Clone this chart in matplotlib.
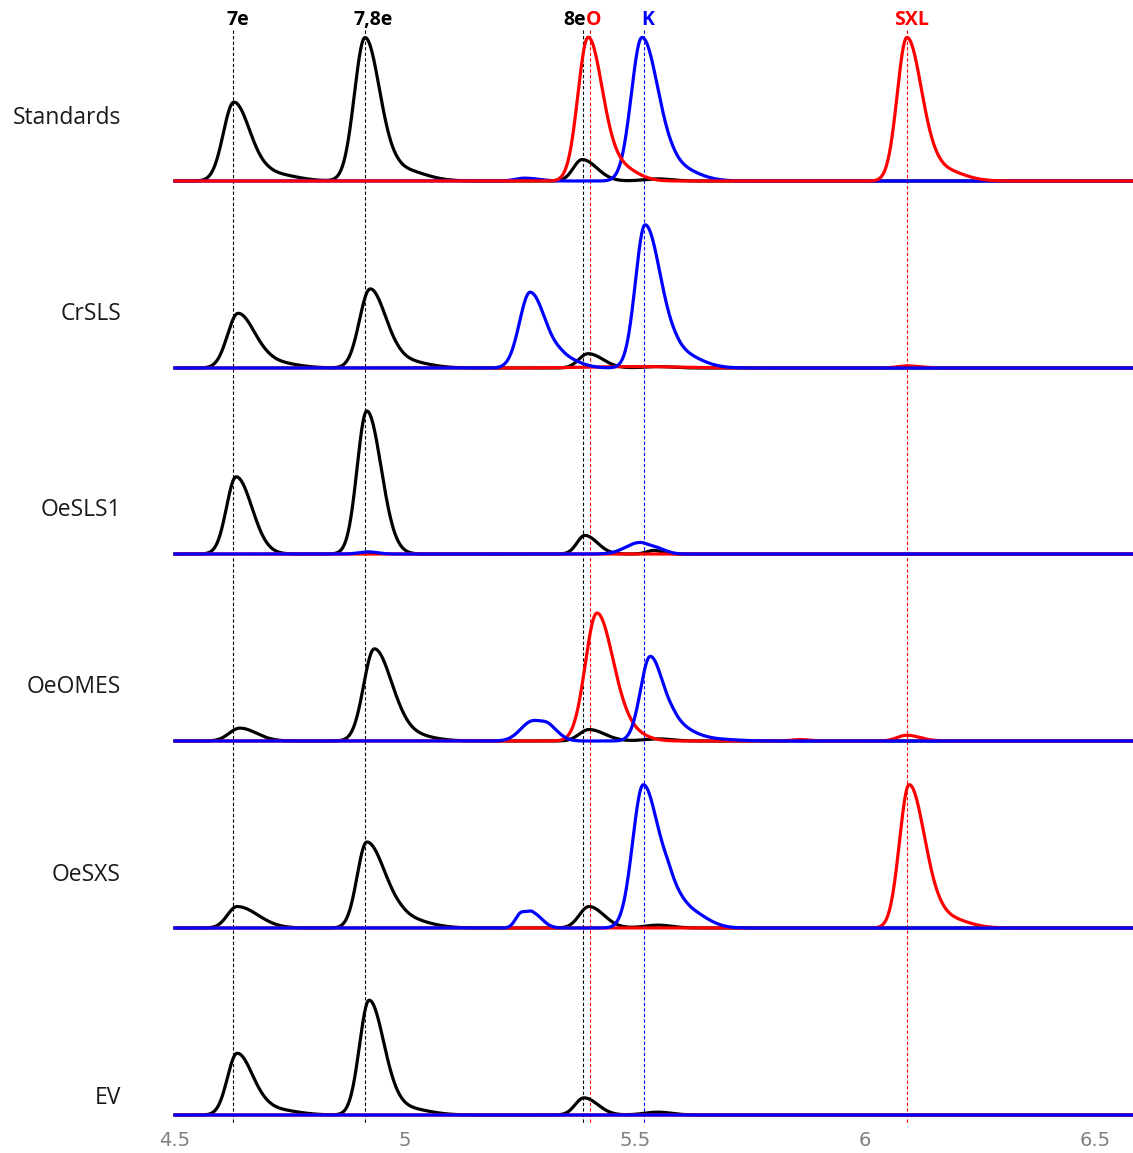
import numpy as np
import matplotlib
matplotlib.use('Agg')
import matplotlib.pyplot as plt

# sample names, top to bottom
samples = ['Standards', 'CrSLS', 'OeSLS1', 'OeOMES', 'OeSXS', 'EV']

# reference retention times (min)
ref_times = [4.626, 4.913, 5.387, 5.402, 5.520, 6.091]
ref_colors = ['black', 'black', 'black', 'red', 'blue', 'red']

# peaks: (time, height in % of largest peak, left width, right width)
std_black = [(4.628, 55, 0.023, 0.035), (4.71, 5, 0.03, 0.05),
             (4.913, 100, 0.023, 0.032), (4.99, 8, 0.03, 0.05),
             (5.385, 15, 0.019, 0.032), (5.55, 1.5, 0.03, 0.03)]
std_blue = [(5.26, 2, 0.02, 0.03), (5.515, 100, 0.023, 0.035), (5.59, 9, 0.03, 0.045)]
std_red = [(5.398, 100, 0.022, 0.031), (5.47, 9, 0.03, 0.035),
           (6.091, 100, 0.021, 0.032), (6.165, 8, 0.03, 0.045)]

cr_black = [(4.637, 38, 0.023, 0.036), (4.71, 4, 0.03, 0.05),
            (4.924, 55, 0.023, 0.034), (4.995, 5, 0.03, 0.05),
            (5.398, 10, 0.02, 0.032), (5.55, 1, 0.03, 0.03)]
cr_blue = [(5.272, 53, 0.023, 0.034), (5.345, 6, 0.02, 0.035),
           (5.522, 100, 0.021, 0.034), (5.595, 10, 0.025, 0.045)]
cr_red = [(5.5, 1, 0.1, 0.1), (6.09, 1.5, 0.02, 0.03)]

sls_black = [(4.633, 54, 0.021, 0.034), (4.917, 100, 0.021, 0.031),
             (5.391, 13, 0.017, 0.027), (5.54, 2.5, 0.015, 0.02)]
sls_blue = [(4.92, 1.5, 0.02, 0.02), (5.51, 8, 0.03, 0.022), (5.55, 3, 0.015, 0.02)]
sls_red = []

omes_black = [(4.641, 9, 0.023, 0.036), (4.933, 64, 0.023, 0.037), (5.0, 5, 0.03, 0.05),
              (5.40, 8, 0.021, 0.034), (5.55, 1.5, 0.03, 0.03)]
omes_blue = [(5.278, 14, 0.026, 0.028), (5.315, 6, 0.015, 0.022),
             (5.533, 59, 0.021, 0.029), (5.59, 10, 0.02, 0.035), (5.66, 1.5, 0.03, 0.05)]
omes_red = [(5.417, 89, 0.025, 0.035), (5.485, 6, 0.03, 0.035),
            (5.86, 1, 0.02, 0.02), (6.09, 4, 0.02, 0.03)]

sxs_black = [(4.635, 15, 0.021, 0.045), (4.917, 60, 0.021, 0.04), (5.0, 6, 0.03, 0.05),
             (5.40, 15, 0.021, 0.032), (5.55, 2, 0.03, 0.03)]
sxs_blue = [(5.252, 10, 0.012, 0.013), (5.278, 10, 0.012, 0.02),
            (5.518, 100, 0.023, 0.034), (5.58, 20, 0.02, 0.045), (5.65, 2, 0.02, 0.03)]
sxs_red = [(6.096, 100, 0.021, 0.034), (6.175, 7, 0.03, 0.045)]

ev_black = [(4.635, 43, 0.021, 0.034), (4.71, 4, 0.03, 0.05),
            (4.922, 80, 0.021, 0.032), (4.995, 5, 0.03, 0.05),
            (5.389, 12, 0.019, 0.03), (5.55, 2, 0.03, 0.03)]
ev_blue = []
ev_red = []

black_peaks = [std_black, cr_black, sls_black, omes_black, sxs_black, ev_black]
blue_peaks = [std_blue, cr_blue, sls_blue, omes_blue, sxs_blue, ev_blue]
red_peaks = [std_red, cr_red, sls_red, omes_red, sxs_red, ev_red]

x_ticks = [4.5, 5, 5.5, 6, 6.5]


def trace(x, peaks):
    # sum of asymmetric gaussian peaks
    y = np.zeros_like(x)
    for t0, h, sl, sr in peaks:
        s = np.where(x < t0, sl, sr)
        y += h * np.exp(-0.5 * ((x - t0) / s) ** 2)
    return y


W, H = 1133, 1153
fig = plt.figure(figsize=(W / 100, H / 100), dpi=100)
ax = fig.add_axes([0, 28 / H, 1, 1 - 28 / H])

# x scale: 4.5 at 175 px, 460 px per minute
px_per_min = 460
x_left = 4.5 - 175 / px_per_min
x_right = 4.5 + (W - 175) / px_per_min
ax.set_xlim(x_left, x_right)
ax.set_ylim(H - 28, 0)

# baselines in pixels from top, height scale in px per 100 %
baselines = [181, 368, 554, 741, 928, 1115]
scale = 143 / 100
label_y = [118, 314, 510, 687, 875, 1098]

x = np.linspace(4.5, x_right, 3000)

for xr, c in zip(ref_times, ref_colors):
    ax.vlines(xr, 30, 1124, colors=c, linestyles=(0, (3, 2)), linewidth=0.8, zorder=1)

for i in range(len(samples)):
    b = baselines[i]
    yb = b - scale * trace(x, black_peaks[i])
    yl = b - scale * trace(x, blue_peaks[i])
    yr = b - scale * trace(x, red_peaks[i])
    ax.plot(x, yb, color='black', lw=2.3, zorder=3)
    if i == 0:
        ax.plot(x, yl, color='#0000ff', lw=2.3, zorder=4)
        ax.plot(x, yr, color='#ff0000', lw=2.3, zorder=5)
    else:
        ax.plot(x, yr, color='#ff0000', lw=2.3, zorder=4)
        ax.plot(x, yl, color='#0000ff', lw=2.3, zorder=5)
    ax.text(4.5 - 54 / px_per_min, label_y[i], samples[i], ha='right', va='center',
            fontsize=16.5, family='Open Sans', color='#1a1a1a')

# peak labels on top
lab_kw = dict(va='center', fontsize=14, fontweight='bold', family='Open Sans')
ax.text(4.637, 20, '7e', ha='center', color='black', **lab_kw)
ax.text(4.930, 20, '7,8e', ha='center', color='black', **lab_kw)
ax.text(5.393, 20, '8e', ha='right', color='black', **lab_kw)
ax.text(5.393, 20, 'O', ha='left', color='red', **lab_kw)
ax.text(5.528, 20, 'K', ha='center', color='blue', **lab_kw)
ax.text(6.102, 20, 'SXL', ha='center', color='red', **lab_kw)

ax.set_xticks(x_ticks)
ax.set_xticklabels([('%g' % v) for v in x_ticks])
ax.tick_params(axis='x', length=0, pad=4, labelsize=14, labelcolor='#808080')
ax.set_yticks([])
for s in ax.spines.values():
    s.set_visible(False)

fig.savefig('out.png', dpi=100)
